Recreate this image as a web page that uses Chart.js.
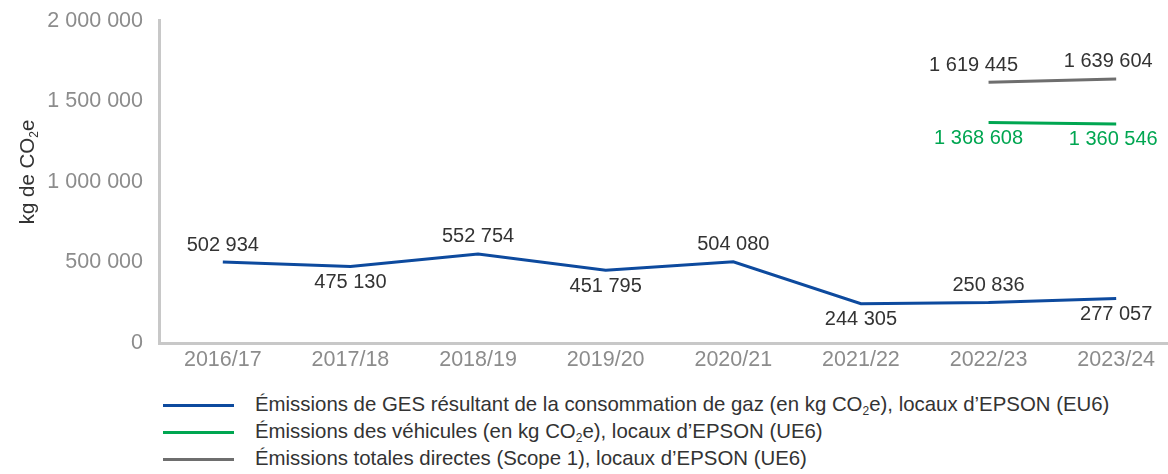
<!DOCTYPE html>
<html lang="fr">
<head>
  <meta charset="UTF-8">
  <title>Émissions Scope 1</title>
  <style>
    body { margin: 0; width: 1168px; height: 474px; overflow: hidden; background: #fff; font-family: "Liberation Sans", Arial, sans-serif; }
    #wrap { position: absolute; left: 0; top: -8px; width: 1180px; height: 386px; }
    #legend { position: absolute; left: 163px; top: 392px; }
    .row { position: relative; height: 27px; }
    .row .swatch { position: absolute; left: 0; top: 12px; width: 71px; height: 3px; }
    .row .txt { position: absolute; left: 92px; top: 1px; white-space: nowrap; font-size: 20.4px; color: #333; }
    sub { font-size: 12px; vertical-align: -4px; line-height: 0; }
  </style>
</head>
<body>
  <div id="wrap"><canvas id="myChart" width="1180" height="386"></canvas></div>
  <div id="legend"></div>
  <script src="https://cdn.jsdelivr.net/npm/chart.js"></script>
  <script>
    const years = ['2016/17', '2017/18', '2018/19', '2019/20', '2020/21', '2021/22', '2022/23', '2023/24']
    const gazEmissions = [502934, 475130, 552754, 451795, 504080, 244305, 250836, 277057]
    const vehiculeEmissions = [null, null, null, null, null, null, 1368608, 1360546]
    const totalEmissions = [null, null, null, null, null, null, 1619445, 1639604]
    const yTicks = [0, 500000, 1000000, 1500000, 2000000]
    const seriesNames = [
      'Émissions de GES résultant de la consommation de gaz (en kg CO<sub>2</sub>e), locaux d’EPSON (EU6)',
      'Émissions des véhicules (en kg CO<sub>2</sub>e), locaux d’EPSON (UE6)',
      'Émissions totales directes (Scope 1), locaux d’EPSON (UE6)'
    ]
    const colors = ['#0d4a9e', '#00a651', '#6e6e6e']

    const FONT = '"Liberation Sans", Arial, sans-serif'
    const fmt = v => String(v).replace(/\B(?=(\d{3})+(?!\d))/g, ' ')

    // value labels drawn next to the points
    const valueLabels = {
      id: 'valueLabels',
      afterDatasetsDraw(chart) {
        const ctx = chart.ctx
        ctx.save()
        ctx.font = '20px ' + FONT
        ctx.textAlign = 'center'
        ctx.textBaseline = 'middle'
        chart.data.datasets.forEach((ds, i) => {
          const meta = chart.getDatasetMeta(i)
          meta.data.forEach((pt, j) => {
            const v = ds.data[j]
            if (v == null) return
            const up = ds.labelPos[j] === 'above'
            ctx.fillStyle = ds.labelColor
            ctx.fillText(fmt(v), pt.x + (ds.labelDx[j] || 0), pt.y + (up ? -17 : 16))
          })
        })
        ctx.restore()
      }
    }

    // y axis title with subscript
    const yTitle = {
      id: 'yTitle',
      afterDraw(chart) {
        const ctx = chart.ctx
        ctx.save()
        ctx.translate(34, 180)
        ctx.rotate(-Math.PI / 2)
        ctx.fillStyle = '#333'
        ctx.textBaseline = 'alphabetic'
        ctx.font = '20.5px ' + FONT
        const a = 'kg de CO', b = '2', c = 'e'
        const wa = ctx.measureText(a).width
        ctx.font = '12px ' + FONT
        const wb = ctx.measureText(b).width
        ctx.font = '20.5px ' + FONT
        const wc = ctx.measureText(c).width
        let x = -(wa + wb + wc) / 2
        ctx.fillText(a, x, 0)
        ctx.font = '12px ' + FONT
        ctx.fillText(b, x + wa, 4)
        ctx.font = '20.5px ' + FONT
        ctx.fillText(c, x + wa + wb, 0)
        ctx.restore()
      }
    }

    new Chart(document.getElementById('myChart'), {
      type: 'line',
      data: {
        labels: years,
        datasets: [
          {
            label: 'gaz', data: gazEmissions, borderColor: colors[0], labelColor: '#333',
            labelPos: ['above', 'below', 'above', 'below', 'above', 'below', 'above', 'below'],
            labelDx: [0, 0, 0, 0, 0, 0, 0, 0]
          },
          {
            label: 'vehicules', data: vehiculeEmissions, borderColor: colors[1], labelColor: '#00a651',
            labelPos: ['below', 'below', 'below', 'below', 'below', 'below', 'below', 'below'],
            labelDx: [0, 0, 0, 0, 0, 0, -10, -3]
          },
          {
            label: 'total', data: totalEmissions, borderColor: colors[2], labelColor: '#333',
            labelPos: ['above', 'above', 'above', 'above', 'above', 'above', 'above', 'above'],
            labelDx: [0, 0, 0, 0, 0, 0, -15, -8]
          }
        ].map(d => Object.assign(d, { borderWidth: 3, pointRadius: 0, tension: 0, fill: false }))
      },
      options: {
        responsive: false,
        animation: false,
        layout: { padding: { top: 12, right: 0, bottom: 0, left: 0 } },
        plugins: { legend: { display: false }, tooltip: { enabled: false } },
        scales: {
          x: {
            offset: true,
            grid: { display: false, drawTicks: false },
            border: { color: '#c8c8c8', width: 3 },
            ticks: { color: '#8c8c8c', font: { family: FONT, size: 21.5 }, padding: 4, maxRotation: 0 },
            afterFit(scale) { scale.height = 35 }
          },
          y: {
            min: 0, max: 2000000,
            grid: { display: false, drawTicks: false },
            border: { color: '#c8c8c8', width: 3 },
            afterBuildTicks(scale) { scale.ticks = yTicks.map(v => ({ value: v })) },
            ticks: { color: '#8c8c8c', font: { family: FONT, size: 21.5 }, padding: 16, callback: v => fmt(v) },
            afterFit(scale) { scale.width = 159 }
          }
        }
      },
      plugins: [valueLabels, yTitle]
    })

    // legend
    const legend = document.getElementById('legend')
    seriesNames.forEach((name, i) => {
      const row = document.createElement('div')
      row.className = 'row'
      row.innerHTML = '<div class="swatch" style="background:' + colors[i] + '"></div><div class="txt">' + name + '</div>'
      legend.appendChild(row)
    })
  </script>
</body>
</html>
